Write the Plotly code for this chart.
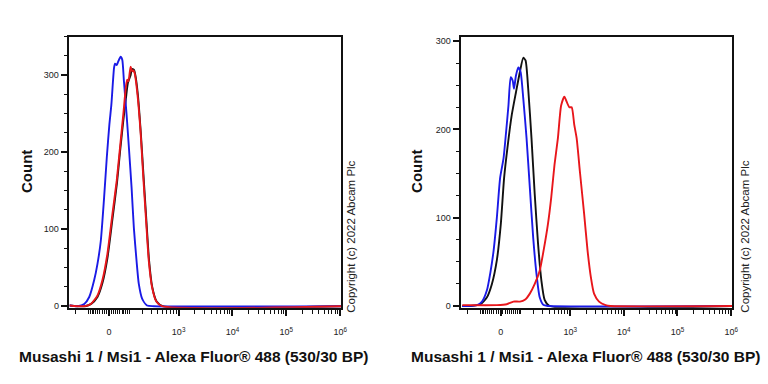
import numpy as np
import plotly.graph_objects as go

# ---------------- data (x in display units of a biexponential axis, y = count)
# Left panel
L_blue_x = [0.975, 1.126, 1.250, 1.342, 1.434, 1.495, 1.557, 1.618, 1.668, 1.716, 1.752, 1.802, 1.820,
            1.852, 1.876, 1.925, 1.955, 1.986, 2.036, 2.078, 2.128, 2.170, 2.220, 2.262, 2.323, 2.415,
            2.539, 6.02]
L_blue_y = [1, 0, 3, 12, 34, 55, 85, 141, 193, 236, 261, 309, 315, 313, 317, 324, 320, 292, 248, 206,
            154, 102, 59, 29, 10, 1, 0, 0]

L_black_x = [0.975, 1.268, 1.378, 1.495, 1.587, 1.679, 1.771, 1.857, 1.913, 1.973, 2.023, 2.060, 2.110,
             2.134, 2.170, 2.198, 2.244, 2.299, 2.349, 2.404, 2.452, 2.511, 2.594, 2.704, 6.02]
L_black_y = [1, 0, 3, 12, 30, 62, 112, 160, 200, 240, 270, 290, 300, 308, 307, 300, 275, 225, 170, 110,
             60, 25, 6, 0, 0]

L_red_x = [0.975, 1.250, 1.373, 1.495, 1.587, 1.679, 1.771, 1.852, 1.913, 1.973, 2.023, 2.047, 2.069,
           2.110, 2.139, 2.161, 2.183, 2.231, 2.294, 2.342, 2.397, 2.447, 2.507, 2.588, 2.692, 6.02]
L_red_y = [1, 0, 3, 14, 34, 68, 119, 163, 206, 248, 285, 294, 292, 311, 305, 306, 303, 279, 227, 171,
           111, 59, 25, 6, 0, 0]

# Right panel
R_blue_x = [0.992, 1.084, 1.268, 1.360, 1.452, 1.513, 1.576, 1.636, 1.697, 1.760, 1.808, 1.852, 1.894,
            1.931, 1.955, 1.992, 2.036, 2.078, 2.128, 2.189, 2.250, 2.312, 2.373, 2.434, 2.507, 2.594, 6.02]
R_blue_y = [0, 0, 1, 5, 18, 37, 63, 100, 145, 167, 197, 227, 259, 255, 246, 261, 270, 265, 235, 190,
            134, 78, 37, 10, 1, 0, 0]

R_black_x = [0.992, 1.139, 1.329, 1.452, 1.544, 1.636, 1.710, 1.771, 1.833, 1.913, 1.992, 2.065, 2.128,
             2.170, 2.220, 2.281, 2.342, 2.404, 2.465, 2.526, 2.618, 6.02]
R_black_y = [0, 0, 2, 10, 25, 52, 93, 145, 179, 216, 242, 265, 281, 278, 246, 190, 126, 70, 29, 7, 0, 0]

R_red_x = [0.992, 1.636, 1.820, 1.944, 2.065, 2.158, 2.250, 2.342, 2.434, 2.507, 2.588, 2.649, 2.710,
           2.773, 2.833, 2.894, 2.938, 2.986, 3.030, 3.078, 3.122, 3.183, 3.262, 3.325, 3.386, 3.446,
           3.539, 3.662, 3.754, 6.02]
R_red_y = [1, 1, 2, 5, 5, 7, 14, 25, 40, 63, 93, 123, 160, 190, 227, 237, 231, 225, 225, 205, 190, 152,
           104, 63, 33, 14, 5, 1, 0, 0]

# axis tick labels
major_values = [0, 1e3, 1e4, 1e5, 1e6]
major_labels = ["0", "10<sup>3</sup>", "10<sup>4</sup>", "10<sup>5</sup>", "10<sup>6</sup>"]
x_title = "Musashi 1 / Msi1 - Alexa Fluor® 488 (530/30 BP)"
y_title = "Count"
copyright_text = "Copyright (c) 2022 Abcam Plc"

# ---------------- biexponential display transform
C = 51.0
def biex(v):
    v = np.asarray(v, dtype=float)
    return np.arcsinh(v / (2 * C)) / np.log(10) + np.log10(C)

minor_vals = []
for k in [1, 2]:
    for m in range(1, 10):
        minor_vals += [m * 10 ** k, -m * 10 ** k]
for k in [3, 4, 5]:
    for m in range(2, 10):
        minor_vals.append(m * 10 ** k)
minor_vals = sorted(v for v in minor_vals if v >= -300)
minor_u = [float(u) for u in biex(minor_vals) if 0.975 <= u <= 6.02]
major_u = [float(u) for u in biex(major_values)]

W, H = 768, 384
BLUE, BLACK, RED = "#1a1ae6", "#111111", "#e8161b"

fig = go.Figure()
lw = 1.9
for xs, ys, col, xa, ya in [
    (L_black_x, L_black_y, BLACK, "x", "y"),
    (L_blue_x, L_blue_y, BLUE, "x", "y"),
    (L_red_x, L_red_y, RED, "x", "y"),
    (R_black_x, R_black_y, BLACK, "x2", "y2"),
    (R_blue_x, R_blue_y, BLUE, "x2", "y2"),
    (R_red_x, R_red_y, RED, "x2", "y2"),
]:
    fig.add_trace(go.Scatter(x=xs, y=ys, mode="lines", xaxis=xa, yaxis=ya,
                             line=dict(color=col, width=lw, shape="spline", smoothing=0.6),
                             showlegend=False, hoverinfo="skip"))

tickfont = dict(family="Liberation Sans, Arial", size=9, color="#222")

def xaxis(domain):
    return dict(domain=domain, range=[0.975, 6.02], showgrid=False, zeroline=False,
                showline=True, linecolor="#111", linewidth=1.5, mirror=True,
                tickmode="array", tickvals=major_u, ticktext=major_labels,
                ticks="outside", ticklen=6, tickwidth=2, tickcolor="#111",
                ticklabelstandoff=9, tickfont=tickfont,
                minor=dict(tickmode="array", tickvals=minor_u, ticks="outside",
                           ticklen=4, tickwidth=1, tickcolor="#111", showgrid=False),
                fixedrange=True)

def yaxis(rng, anchor):
    return dict(domain=[1 - 311 / H, 1 - 37 / H], range=rng, anchor=anchor,
                showgrid=False, zeroline=False, showline=True, linecolor="#111",
                linewidth=1.5, mirror=True, tickmode="linear", tick0=0, dtick=100,
                ticks="outside", ticklen=7, tickwidth=2, tickcolor="#111",
                tickfont=tickfont,
                minor=dict(tickmode="linear", tick0=0, dtick=25, ticks="outside",
                           ticklen=4, tickwidth=1, tickcolor="#111", showgrid=False),
                fixedrange=True)

fig.update_layout(
    width=W, height=H, margin=dict(l=0, r=0, t=0, b=0),
    paper_bgcolor="white", plot_bgcolor="white",
    xaxis=dict(xaxis([70 / W, 344 / W]), anchor="y"),
    xaxis2=dict(xaxis([465 / W, 738 / W]), anchor="y2"),
    yaxis=yaxis([-2, 350], "x"),
    yaxis2=yaxis([-2, 305], "x2"),
)

title_font = dict(family="Liberation Sans, Arial", size=15.5, color="#111")
for cx, ycx, crx in [(195.5, 26, 353), (590, 419, 750)]:
    fig.add_annotation(x=cx / W, y=1 - 360 / H, xref="paper", yref="paper",
                       text="<b>" + x_title + "</b>", showarrow=False, font=title_font,
                       xanchor="center", yanchor="middle")
    fig.add_annotation(x=ycx / W, y=1 - 173 / H, xref="paper", yref="paper",
                       text="<b>" + y_title + "</b>", showarrow=False, textangle=-90,
                       font=dict(family="Liberation Sans, Arial", size=15, color="#111"),
                       xanchor="center", yanchor="middle")
    fig.add_annotation(x=crx / W, y=1 - 239 / H, xref="paper", yref="paper",
                       text=copyright_text, showarrow=False, textangle=-90,
                       font=dict(family="Liberation Sans, Arial", size=11.5, color="#222"),
                       xanchor="center", yanchor="middle")

fig.write_html("out.html", config={"displayModeBar": False},
               post_script="document.body.style.margin='0';")
